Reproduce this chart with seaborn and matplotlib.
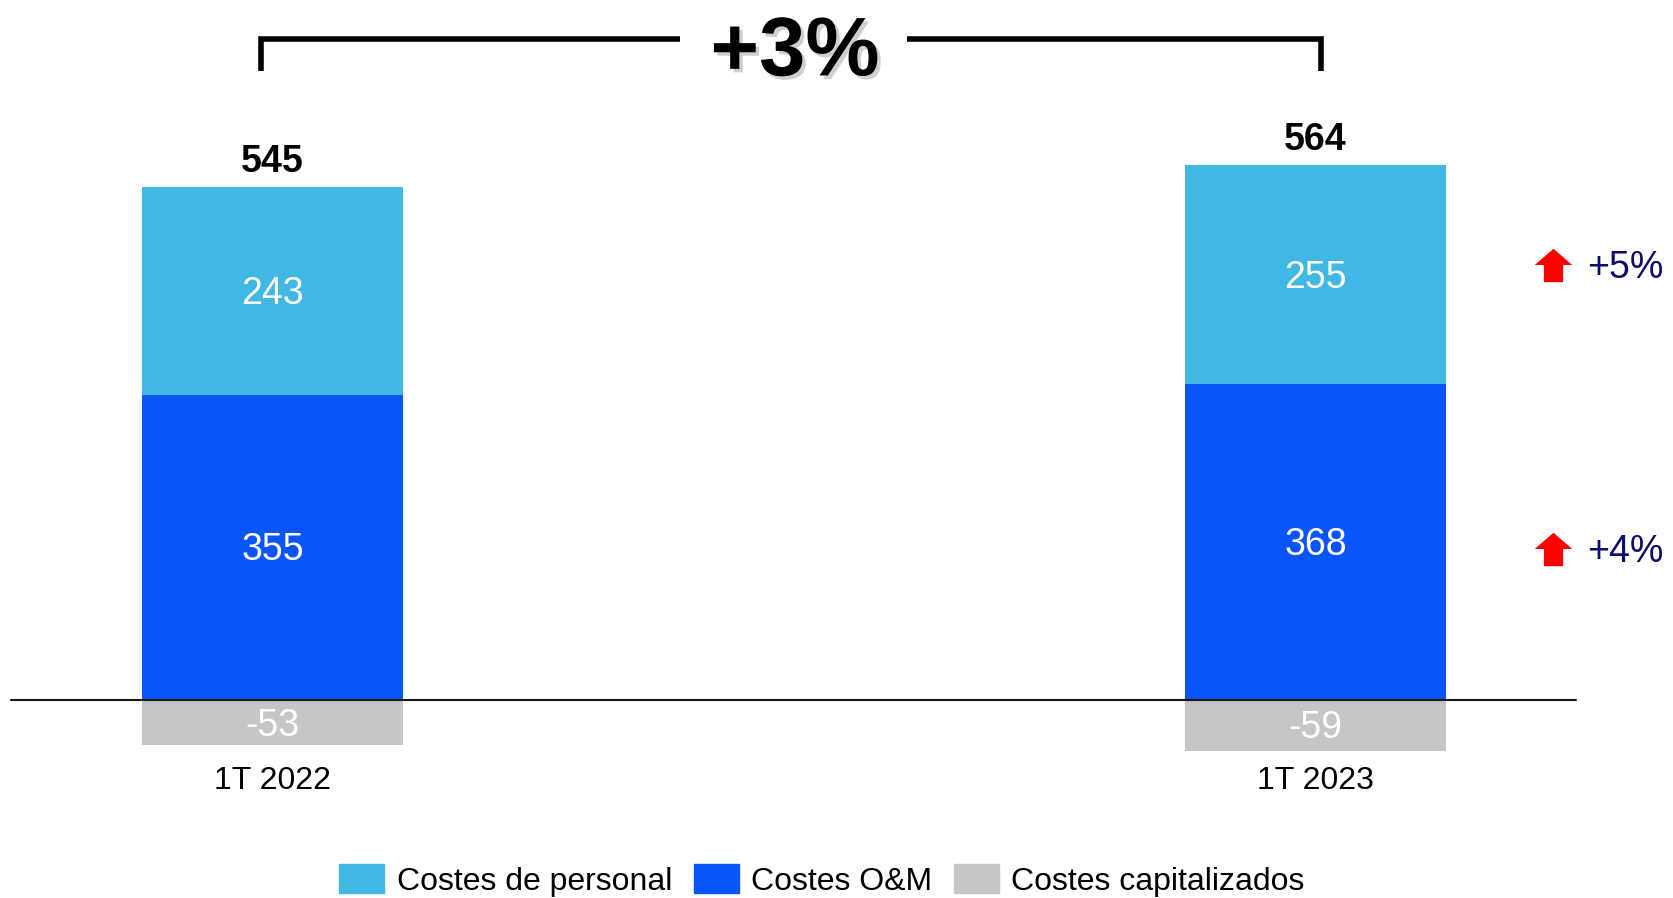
import pandas as pd
import seaborn as sns
import matplotlib.pyplot as plt
import matplotlib.patheffects as pe
from matplotlib.path import Path
from matplotlib.patches import Patch

# Operating costs by quarter (M€)
periods = ["1T 2022", "1T 2023"]
personal = [243, 255]
om = [355, 368]
capitalizados = [-53, -59]
totals = [545, 564]
series_names = ["Costes de personal", "Costes O&M", "Costes capitalizados"]
growth_labels = ["+5%", "+4%"]          # personal, O&M (year on year)
total_growth = "+3%"

c_personal = "#41B8E4"
c_om = "#0A55F9"
c_cap = "#C6C6C6"
c_growth = "#0D0D6B"

sns.set_theme(style="white")
plt.rcParams["font.family"] = ["Liberation Sans", "DejaVu Sans"]
plt.rcParams["text.color"] = "black"

fig = plt.figure(figsize=(16.73, 8.98), dpi=100)
ax = fig.add_axes([0, 0, 1, 1])

df = pd.DataFrame({"period": periods, "personal": personal, "om": om,
                   "cap": capitalizados})

common = dict(data=df, x="period", order=periods, width=0.25, saturation=1,
              errorbar=None, linewidth=0, ax=ax)
sns.barplot(y="om", color=c_om, **common)
sns.barplot(y="personal", bottom=df["om"].to_numpy(), color=c_personal, **common)
sns.barplot(y="cap", color=c_cap, **common)

ax.set_xlim(-0.2613, 1.3428)
ax.set_ylim(-230.8, 815.9)
ax.set_axis_off()

# zero line
ax.axhline(0, xmin=0.0066, xmax=0.942, color="#1a1a1a", lw=1.5, zorder=5)


def seg_label(x, y, s):
    ax.annotate(s, (x, y), xytext=(0, -2), textcoords="offset points",
                color="white", fontsize=27, ha="center", va="center")


# segment and total labels
for i, p in enumerate(periods):
    seg_label(i, om[i] / 2, f"{om[i]}")
    seg_label(i, om[i] + personal[i] / 2, f"{personal[i]}")
    seg_label(i, capitalizados[i] / 2, f"{capitalizados[i]}")
    ax.annotate(f"{totals[i]}", (i, om[i] + personal[i]), xytext=(0, 18),
                textcoords="offset points", fontsize=27, fontweight="bold",
                ha="center", va="center", color="black")
    ax.text(i, -94, p, fontsize=23, ha="center", va="center", color="black")

# growth arrows next to the second bar
arrow = Path([(0, 16.5), (18.5, 0.5), (9.5, 0.5), (9.5, -16.5),
              (-9.5, -16.5), (-9.5, 0.5), (-18.5, 0.5), (0, 16.5)],
             [Path.MOVETO] + [Path.LINETO] * 6 + [Path.CLOSEPOLY])
growth_y = [507, 176]
ax.plot([1.2277] * 2, growth_y, linestyle="none", marker=arrow,
        markersize=27, color="#FF0000", markeredgewidth=0)
for y, lab in zip(growth_y, growth_labels):
    ax.annotate(lab, (1.297, y), xytext=(0, -2), textcoords="offset points",
                fontsize=27, color=c_growth, ha="center", va="center")

# bracket with overall change
bk = dict(color="black", lw=4, solid_capstyle="butt", solid_joinstyle="miter")
ax.plot([-0.011, -0.011, 0.3907], [733, 770, 770], **bk)
ax.plot([0.6083, 1.0053, 1.0053], [770, 770, 733], **bk)
ax.text(0.501, 728, total_growth, fontsize=60, fontweight="bold",
        ha="center", va="baseline", color="black",
        path_effects=[pe.withSimplePatchShadow(offset=(2.5, -2.5),
                                               shadow_rgbFace="#888888",
                                               alpha=0.4)])

handles = [Patch(color=c) for c in (c_personal, c_om, c_cap)]
fig.legend(handles, series_names, loc="center", bbox_to_anchor=(0.4914, 0.0198),
           ncol=3, frameon=False, fontsize=23, handlelength=1.41,
           handleheight=1.04, handletextpad=0.38, columnspacing=0.69,
           borderpad=0, borderaxespad=0, labelcolor="black")

fig.savefig("out.png", dpi=100)
